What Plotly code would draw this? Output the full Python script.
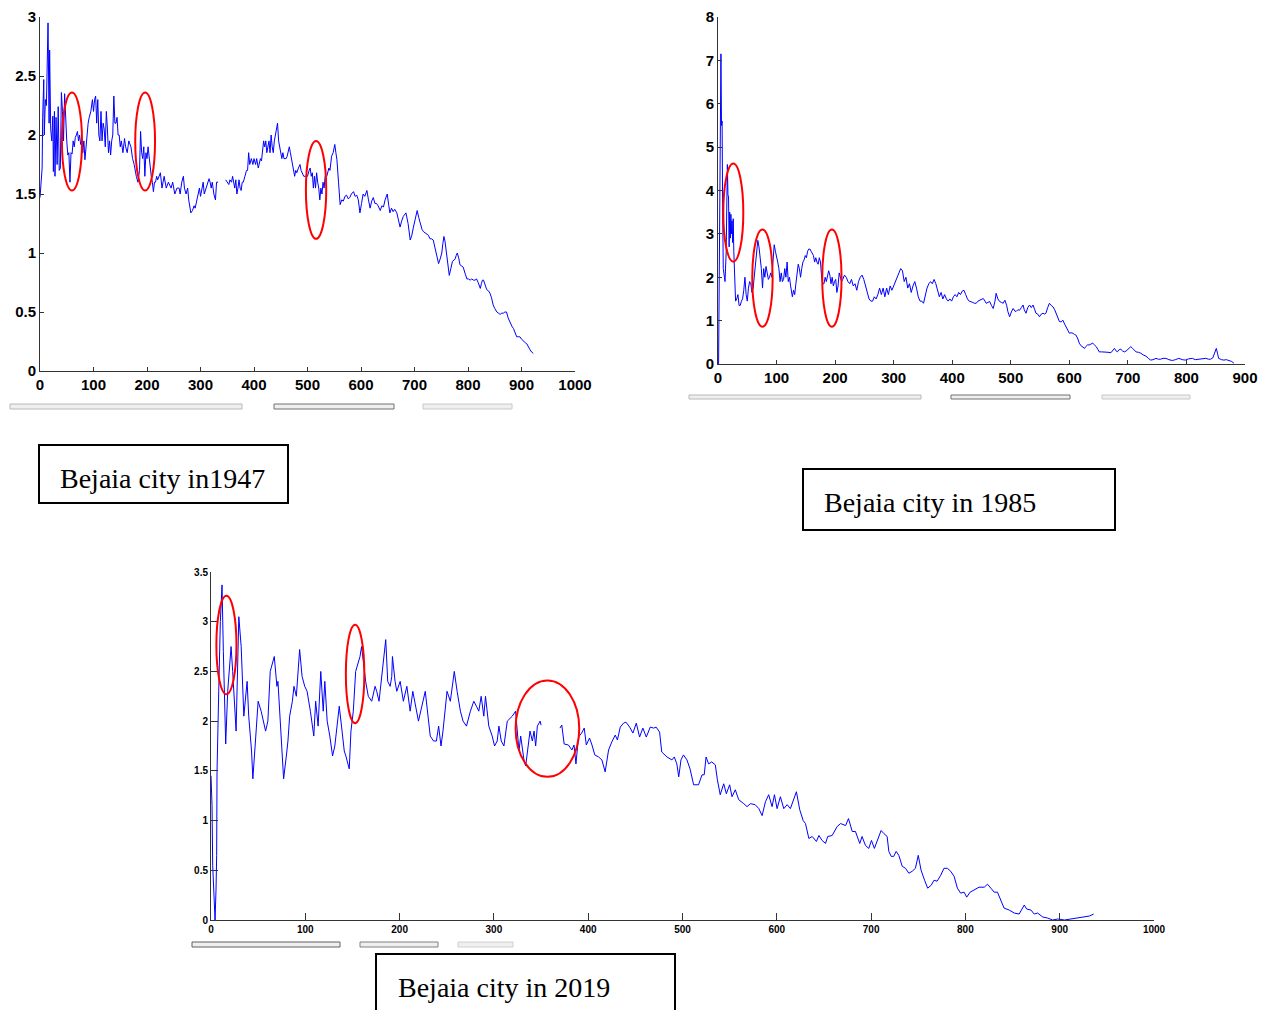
import plotly.graph_objects as go

W, H = 1271, 1010

# ---------------- data: Bejaia city 1947 ----------------
x_1947 = [0,2,4,5,7,8,10,12,15,17,18,20,22,24,25,27,28,30,32,34,36,38,40,42,44,46,48,50,52,54,56,58,60,62,64,66,68,70,72,74,76,78,80,82,84,86,88,90,92,95,98,100,102,104,106,108,110,112,114,116,118,120,122,124,126,128,130,132,134,136,138,140,142,144,146,148,150,152,155,158,160,163,166,170,173,176,180,183,186,188,190,192,194,196,198,200,202,204,206,208,210,212,214,216,218,220,225,228,232,236,240,245,248,252,256,260,262,265,268,270,273,276,278,280,282,285,288,290,293,295,298,300,303,305,307,310,313,316,318,320,322,325,328,330,333,338,347,350,353,355,358,360,362,364,366,368,370,372,374,376,378,380,383,386,388,390,392,395,398,400,403,405,408,410,412,414,416,418,420,422,424,426,428,430,432,434,436,438,440,442,444,446,448,450,452,454,456,458,460,462,464,466,468,470,472,474,476,478,480,483,486,488,490,493,496,500,503,505,507,509,511,513,515,517,519,521,523,525,527,529,531,533,536,538,540,542,545,548,551,553,555,558,561,564,567,570,573,576,579,582,586,589,592,595,598,601,604,607,611,614,617,620,623,626,629,632,636,639,642,645,649,652,654,657,660,663,667,670,673,676,679,684,688,692,695,698,702,705,708,710,714,717,720,723,726,729,732,735,738,740,743,745,748,751,753,755,757,760,763,765,768,771,774,776,778,780,783,785,788,791,795,798,801,804,807,810,813,816,819,821,823,825,827,829,832,835,838,841,844,847,850,854,857,860,863,866,869,872,875,879,882,885,888,891,894,897,900,904,907,910,913,916,919,922]
y_1947 = [1.47,1.62,1.72,2.15,2.47,2.0,2.3,2.25,2.95,2.1,2.72,2.05,1.95,2.16,1.69,2.2,1.65,2.15,1.75,2.24,1.7,1.72,2.36,2.2,1.95,2.35,2.1,1.95,1.83,1.85,1.6,1.85,1.84,1.95,1.9,1.98,2.0,2.03,1.95,2.0,1.92,1.95,1.85,1.95,1.79,1.9,2.0,2.1,2.15,2.2,2.3,2.2,2.3,2.33,2.1,2.3,2.0,1.95,2.2,1.95,2.1,2.05,1.9,2.2,2.05,1.85,1.95,1.83,1.95,2.0,2.33,2.1,2.1,2.15,2.0,2.0,1.9,1.95,1.85,1.97,1.9,1.85,1.95,1.9,1.8,1.75,1.65,1.6,1.7,2.03,1.85,1.8,1.9,1.65,1.85,1.8,1.9,1.8,1.75,1.65,1.6,1.52,1.6,1.6,1.65,1.62,1.68,1.55,1.65,1.55,1.6,1.55,1.6,1.5,1.55,1.55,1.5,1.6,1.65,1.55,1.5,1.55,1.45,1.4,1.34,1.36,1.4,1.38,1.45,1.5,1.55,1.48,1.55,1.6,1.5,1.55,1.6,1.63,1.6,1.55,1.6,1.5,1.45,1.6,1.6,None,1.62,1.6,1.58,1.62,1.6,1.65,1.6,1.55,1.62,1.5,1.55,1.62,1.55,1.53,1.6,1.6,1.65,1.7,1.7,1.85,1.75,1.8,1.75,1.8,1.75,1.8,1.72,1.75,1.8,1.78,1.85,1.95,1.9,1.95,1.85,1.9,1.95,1.85,2.0,1.9,1.85,1.95,2.0,2.05,2.1,1.95,1.9,1.85,1.8,1.85,1.8,1.8,1.8,1.82,1.85,1.9,1.85,1.8,1.75,1.68,1.65,1.7,1.68,1.72,1.75,1.7,1.68,1.65,1.65,1.65,1.7,1.72,1.65,1.68,1.55,1.65,1.55,1.68,1.6,1.55,1.45,1.55,1.5,1.6,1.55,1.65,1.65,1.7,1.72,1.7,1.82,1.85,1.92,1.85,1.79,1.6,1.41,1.45,1.44,1.48,1.49,1.46,1.47,1.5,1.52,1.48,1.49,1.45,1.34,1.42,1.5,1.48,1.53,1.45,1.38,1.44,1.47,1.42,1.42,1.4,1.36,1.4,1.39,1.45,1.5,1.4,1.34,1.38,1.35,1.37,1.34,1.28,1.22,1.27,1.31,1.34,1.25,1.11,1.15,1.22,1.3,1.36,1.3,1.26,1.2,1.18,1.17,1.16,1.15,1.12,1.12,1.11,1.05,1.0,0.95,0.91,0.95,1.0,1.08,1.14,1.1,1.0,0.88,0.81,0.87,0.93,0.94,0.95,0.98,1.0,0.95,0.9,0.89,0.88,0.82,0.78,0.78,0.77,0.78,0.77,0.77,0.78,0.75,0.72,0.7,0.74,0.77,0.77,0.73,0.69,0.68,0.66,0.62,0.56,0.53,0.5,0.49,0.48,0.49,0.49,0.5,0.5,0.45,0.4,0.38,0.36,0.33,0.29,0.29,0.29,0.27,0.25,0.24,0.23,0.2,0.18,0.16,0.15]

# ---------------- data: Bejaia city 1985 ----------------
x_1985 = [1,3,4,5,6,7,8,9,11,12,14,16,17,18,19,20,21,22,23,24,25,26,27,28,30,32,34,36,38,40,42,44,46,48,50,52,54,56,58,60,62,64,66,68,70,72,74,76,78,80,82,84,86,88,90,92,94,96,98,100,102,104,106,108,110,112,114,116,118,120,122,124,127,129,131,133,135,137,139,141,143,145,147,149,151,153,155,157,159,161,163,165,167,169,171,173,175,177,179,181,183,185,187,189,191,193,195,197,199,201,203,205,207,209,211,213,216,219,222,225,228,231,234,237,240,243,246,249,252,255,258,261,264,267,270,273,276,279,282,285,288,291,294,297,300,303,306,309,312,315,318,321,324,327,330,333,336,339,342,345,348,351,354,357,360,363,366,369,372,375,378,381,384,387,390,393,396,399,402,405,408,411,414,417,420,423,426,429,432,435,438,441,444,447,450,453,456,458,461,464,467,470,473,475,478,481,484,487,490,493,495,498,501,504,507,509,512,515,518,521,523,526,529,532,535,538,541,543,546,549,552,555,558,560,563,566,569,572,575,577,580,583,586,589,592,594,597,600,603,606,609,611,614,617,620,623,626,628,631,634,637,640,643,646,649,651,655,659,662,666,671,674,677,680,682,685,688,691,694,697,699,702,705,708,711,714,718,722,726,731,735,739,743,748,752,756,760,765,770,776,781,787,793,798,804,810,815,821,827,833,838,841,845,847,849,851,853,855,860,864,868,872,877,881]
y_1985 = [0.0,5.1,4.9,7.15,5.5,5.6,3.5,2.2,2.0,1.9,2.6,4.6,3.9,3.85,2.7,3.5,2.9,3.45,3.0,3.3,2.8,3.35,2.6,2.3,1.45,1.5,1.6,1.35,1.35,1.45,1.5,1.7,2.0,1.6,1.45,1.75,1.9,1.85,1.65,1.75,2.0,2.2,2.5,2.85,2.7,2.5,2.2,1.75,2.2,2.0,2.25,2.1,1.95,2.0,2.1,2.0,2.45,2.75,2.6,2.5,2.35,2.2,1.9,2.1,1.9,1.95,2.2,2.0,2.35,1.9,2.0,1.8,1.55,1.7,1.6,1.85,2.1,2.3,2.2,2.0,2.2,2.35,2.4,2.5,2.45,2.6,2.65,2.65,2.6,2.55,2.5,2.35,2.45,2.35,2.3,2.45,2.35,2.0,1.85,1.85,2.0,1.9,2.05,2.15,2.05,1.85,2.0,1.8,1.9,1.95,1.65,1.8,2.1,2.0,1.9,1.95,2.05,2.0,1.9,1.85,1.95,1.8,1.85,1.7,1.9,2.0,2.05,1.95,1.8,1.65,1.5,1.45,1.45,1.55,1.5,1.6,1.75,1.6,1.75,1.55,1.75,1.6,1.8,1.7,1.8,1.9,2.0,2.1,2.2,2.15,1.9,2.0,1.75,1.85,1.65,1.8,1.9,1.75,1.55,1.45,1.45,1.4,1.6,1.75,1.85,1.9,1.85,1.95,1.85,1.7,1.55,1.65,1.5,1.6,1.5,1.45,1.5,1.45,1.55,1.6,1.55,1.65,1.6,1.68,1.7,1.6,1.5,1.45,1.44,1.42,1.4,1.4,1.45,1.47,1.5,1.51,1.45,1.4,1.42,1.44,1.35,1.28,1.45,1.63,1.5,1.44,1.42,1.4,1.47,1.35,1.21,1.09,1.2,1.28,1.22,1.21,1.25,1.24,1.3,1.36,1.25,1.17,1.3,1.36,1.3,1.36,1.25,1.17,1.15,1.09,1.15,1.17,1.15,1.17,1.3,1.4,1.35,1.32,1.25,1.17,1.1,0.98,0.97,1.01,0.92,0.86,0.78,0.71,0.72,0.71,0.68,0.67,0.6,0.48,0.42,0.38,0.36,0.4,0.44,0.44,0.46,0.48,0.44,0.4,0.33,0.28,0.28,0.28,0.28,0.27,0.26,0.3,0.36,0.3,0.28,0.33,0.34,0.3,0.28,0.3,0.32,0.36,0.4,0.36,0.31,0.28,0.27,0.25,0.21,0.18,0.13,0.09,0.1,0.13,0.11,0.11,0.13,0.13,0.1,0.08,0.1,0.13,0.1,0.09,0.12,0.13,0.1,0.11,0.12,0.13,0.11,0.11,0.14,0.2,0.3,0.36,0.25,0.13,0.1,0.09,0.1,0.09,0.06,0.02]

# ---------------- data: Bejaia city 2019 ----------------
x_2019 = [0,1.1,1.8,3.2,4.3,5.3,6,6.4,7.1,8.2,9.9,11.7,13.1,15.6,17.7,21.3,23,24.8,26.6,29.5,32,34.8,38.3,40,41.9,43,44.4,46.1,47.9,50,53.2,57.9,60.3,62.8,67.1,69.9,71,73.5,75.6,77,79.9,81.6,83.4,86.3,88,90.5,94,96.6,99.4,101.9,105.4,109,111,113.6,116.4,119,120.7,123.2,126,128.9,131.3,134.9,136,138.4,141.3,143,146.6,148.4,150.9,153.4,156.2,158,159.7,161.5,164,166.8,170.4,174,175.7,178.2,180,182,185.3,187.4,190,191.7,192.4,195.2,197,200.6,204,207.7,211.2,214,220,227.2,229.7,232.5,236,239,241.4,243.9,246,248.5,250.3,253.8,258,261,264.5,267.3,270.9,275.1,278.7,281.5,284,286.5,289.3,291.1,294.6,298.2,300.7,303.5,305.3,307.8,310.6,314.2,319.5,323,326.6,328.4,332,333.7,336.5,338.3,340.8,342.6,344.3,346.1,349,350,360,370,372,374.5,379,382.7,385,387,389.7,393,395.8,398,401.4,404,407,411,414.5,418,421.6,425,428.7,431,434,437.5,440,444,447.4,451,454.5,458,461.6,465.8,469.4,472,475.7,478,483.5,488.8,491.3,494,496,498.4,501,504.7,508,511.8,517,520.7,523,525,527.7,531,534.8,537,540,543.7,546.5,550,552.5,556,559.6,565,568.4,572,577,581,584.4,588,591.4,595,597.5,600.3,603.8,607.4,611,614.4,618,620.8,624.3,628,630.4,634,637.5,642,644.7,648,651.7,654,658.7,664,667.6,673,676,680,683.4,688,690.4,694,697.5,700.4,703.5,707,710.6,713.5,717,718.8,721.3,724,726.6,729.4,733,736.5,740,743.6,747,750,753,756.7,760,763.8,766.7,770,773.8,777.3,780.9,784.4,788,791.5,795,798.6,801.4,805,809,814.5,820,823.4,827,830.5,834,837.6,841,846.5,851.8,857,859.6,862.4,865,869.5,873,876.6,882,887,892.5,897.9,905,912,919,926,931.6,936]
y_2019 = [1.45,1.15,0.55,0.15,0.0,0.3,0.65,1.5,1.9,2.3,3.0,3.37,2.7,1.77,2.3,2.75,2.5,2.2,1.9,3.05,2.75,2.05,2.4,2.05,1.85,1.7,1.42,1.65,2.0,2.2,2.1,1.9,2.0,2.5,2.65,2.35,2.4,1.95,1.7,1.42,1.65,1.8,2.05,2.2,2.35,2.25,2.72,2.45,2.35,2.3,2.1,1.85,2.2,1.95,2.5,2.1,2.4,2.0,1.85,1.65,1.75,2.1,2.15,1.95,1.7,1.65,1.52,1.9,2.1,2.5,2.6,2.65,2.75,2.6,2.4,2.25,2.2,2.35,2.3,2.2,2.35,2.55,2.82,2.4,2.35,2.45,2.65,2.4,2.3,2.4,2.2,2.35,2.1,2.3,2.0,2.3,2.1,1.85,1.8,1.8,1.95,1.75,1.9,2.1,2.3,2.2,2.5,2.3,2.1,2.0,1.95,2.1,2.2,2.15,2.1,2.25,2.05,2.25,1.95,1.85,1.75,1.8,1.95,1.8,1.75,2.0,2.05,2.1,1.7,1.85,1.6,1.55,1.75,1.9,1.8,1.9,1.75,1.95,2.0,1.96,None,1.93,1.96,1.77,1.76,1.71,1.76,1.57,1.84,1.88,1.93,1.76,1.83,1.76,1.66,1.64,1.61,1.49,1.71,1.79,1.86,1.81,1.94,1.98,1.99,1.94,1.88,1.98,1.84,1.93,1.84,1.94,1.93,1.94,1.89,1.69,1.64,1.61,1.64,1.57,1.44,1.61,1.66,1.61,1.52,1.36,1.36,1.46,1.46,1.64,1.57,1.59,1.56,1.41,1.26,1.37,1.27,1.36,1.24,1.31,1.21,1.17,1.14,1.17,1.16,1.12,1.05,1.19,1.26,1.14,1.26,1.12,1.24,1.12,1.16,1.12,1.21,1.29,1.11,1.0,0.97,0.82,0.84,0.79,0.85,0.8,0.77,0.84,0.85,0.94,0.97,0.95,1.02,0.89,0.89,0.77,0.84,0.75,0.72,0.8,0.72,0.82,0.9,0.87,0.84,0.69,0.64,0.64,0.69,0.65,0.54,0.52,0.47,0.49,0.52,0.65,0.5,0.4,0.32,0.35,0.4,0.39,0.45,0.52,0.52,0.49,0.44,0.32,0.27,0.28,0.23,0.28,0.3,0.33,0.33,0.36,0.32,0.28,0.28,0.2,0.12,0.1,0.07,0.06,0.1,0.15,0.11,0.1,0.06,0.07,0.03,0.02,0.0,0.01,0.0,0.01,0.02,0.03,0.04,0.06]

# tick values
yt_1947 = [0, 0.5, 1, 1.5, 2, 2.5, 3]
yl_1947 = ["0", "0.5", "1", "1.5", "2", "2.5", "3"]
xt_1947 = list(range(0, 1001, 100))
yt_1985 = list(range(0, 9))
xt_1985 = list(range(0, 901, 100))
yt_2019 = [0, 0.5, 1, 1.5, 2, 2.5, 3, 3.5]
yl_2019 = ["0", "0.5", "1", "1.5", "2", "2.5", "3", "3.5"]
xt_2019 = list(range(0, 1001, 100))

titles = ["Bejaia city in1947", "Bejaia city in 1985", "Bejaia city in 2019"]


def px(x):
    return x / W


def py(y):
    return 1 - y / H


fig = go.Figure()
line = dict(color="#0000ff", width=1)
fig.add_trace(go.Scatter(x=x_1947, y=y_1947, mode="lines", line=line, xaxis="x", yaxis="y",
                         connectgaps=False, showlegend=False))
fig.add_trace(go.Scatter(x=x_1985, y=y_1985, mode="lines", line=line, xaxis="x2", yaxis="y2",
                         showlegend=False))
fig.add_trace(go.Scatter(x=x_2019, y=y_2019, mode="lines", line=line, xaxis="x3", yaxis="y3",
                         connectgaps=False, showlegend=False))

big = dict(family="Liberation Sans, Arial", size=15, color="black", weight="bold")
small = dict(family="Liberation Sans, Arial", size=10, color="black", weight="bold")
common = dict(showgrid=False, zeroline=False, showline=True, linecolor="#333", linewidth=1,
              ticks="inside", tickcolor="#333", mirror=False, fixedrange=True, automargin=False)

fig.update_layout(
    width=W, height=H, margin=dict(l=0, r=0, t=0, b=0, pad=0), autosize=False,
    paper_bgcolor="white", plot_bgcolor="white", showlegend=False,
    xaxis=dict(domain=[px(40), px(575)], range=[0, 1000], tickvals=xt_1947, anchor="y",
               tickfont=big, ticklen=4, **common),
    yaxis=dict(domain=[py(371), py(17)], range=[0, 3], tickvals=yt_1947, ticktext=yl_1947, anchor="x",
               tickfont=big, ticklen=4, **common),
    xaxis2=dict(domain=[px(718), px(1245)], range=[0, 900], tickvals=xt_1985, anchor="y2",
                tickfont=big, ticklen=4, **common),
    yaxis2=dict(domain=[py(364), py(17)], range=[0, 8], tickvals=yt_1985, anchor="x2",
                tickfont=big, ticklen=4, **common),
    xaxis3=dict(domain=[px(211), px(1154)], range=[0, 1000], tickvals=xt_2019, anchor="y3",
                tickfont=small, ticklen=7, **common),
    yaxis3=dict(domain=[py(920), py(572)], range=[0, 3.5], tickvals=yt_2019, ticktext=yl_2019, anchor="x3",
                tickfont=small, ticklen=7, **common),
)

shapes = []
red = dict(color="#ff0000", width=2)
# red ellipses (data coordinates)
for xr, yr, (x0, x1, y0, y1) in [
    ("x", "y", (41, 78.5, 1.53, 2.36)),
    ("x", "y", (178, 215, 1.53, 2.36)),
    ("x", "y", (497, 535, 1.12, 1.95)),
    ("x2", "y2", (9, 43.2, 2.36, 4.62)),
    ("x2", "y2", (58.5, 93.3, 0.86, 3.10)),
    ("x2", "y2", (178, 211, 0.86, 3.10)),
    ("x3", "y3", (5.7, 27, 2.27, 3.26)),
    ("x3", "y3", (143, 162.6, 1.98, 2.97)),
    ("x3", "y3", (323, 390.5, 1.44, 2.41)),
]:
    shapes.append(dict(type="circle", xref=xr, yref=yr, x0=x0, x1=x1, y0=y0, y1=y1, line=red,
                       fillcolor="rgba(0,0,0,0)"))

# grey strips below each axis
for (a, b, top, bot, lc) in [
    (10, 242, 404, 409, "#b8b8b8"), (274, 394, 404, 409, "#707070"), (423, 512, 404, 409, "#c8c8c8"),
    (689, 921, 395, 399, "#b8b8b8"), (951, 1070, 395, 399, "#707070"), (1102, 1190, 395, 399, "#c8c8c8"),
    (192, 340, 942, 947, "#606060"), (360, 438, 942, 947, "#808080"), (458, 513, 942, 947, "#d0d0d0"),
]:
    shapes.append(dict(type="rect", xref="paper", yref="paper", x0=px(a), x1=px(b), y0=py(bot), y1=py(top),
                       line=dict(color=lc, width=1), fillcolor="#efefef", layer="below"))

# caption boxes
boxes = [(39, 288, 445, 503), (803, 1115, 469, 530), (376, 675, 954, 1014)]
for (a, b, t, bt) in boxes:
    shapes.append(dict(type="rect", xref="paper", yref="paper", x0=px(a), x1=px(b), y0=py(bt), y1=py(t),
                       line=dict(color="black", width=2), fillcolor="white"))
fig.update_layout(shapes=shapes)

text_pos = [(58, 478), (822, 502), (396, 987)]
for t, (tx, ty) in zip(titles, text_pos):
    fig.add_annotation(text=t, x=px(tx), y=py(ty), xref="paper", yref="paper", xanchor="left",
                       yanchor="middle", showarrow=False,
                       font=dict(family="Liberation Serif, Times New Roman", size=28, color="black"))

fig.write_html("out.html", config={"displayModeBar": False},
               post_script="document.body.style.margin='0';document.body.style.overflow='hidden';")
